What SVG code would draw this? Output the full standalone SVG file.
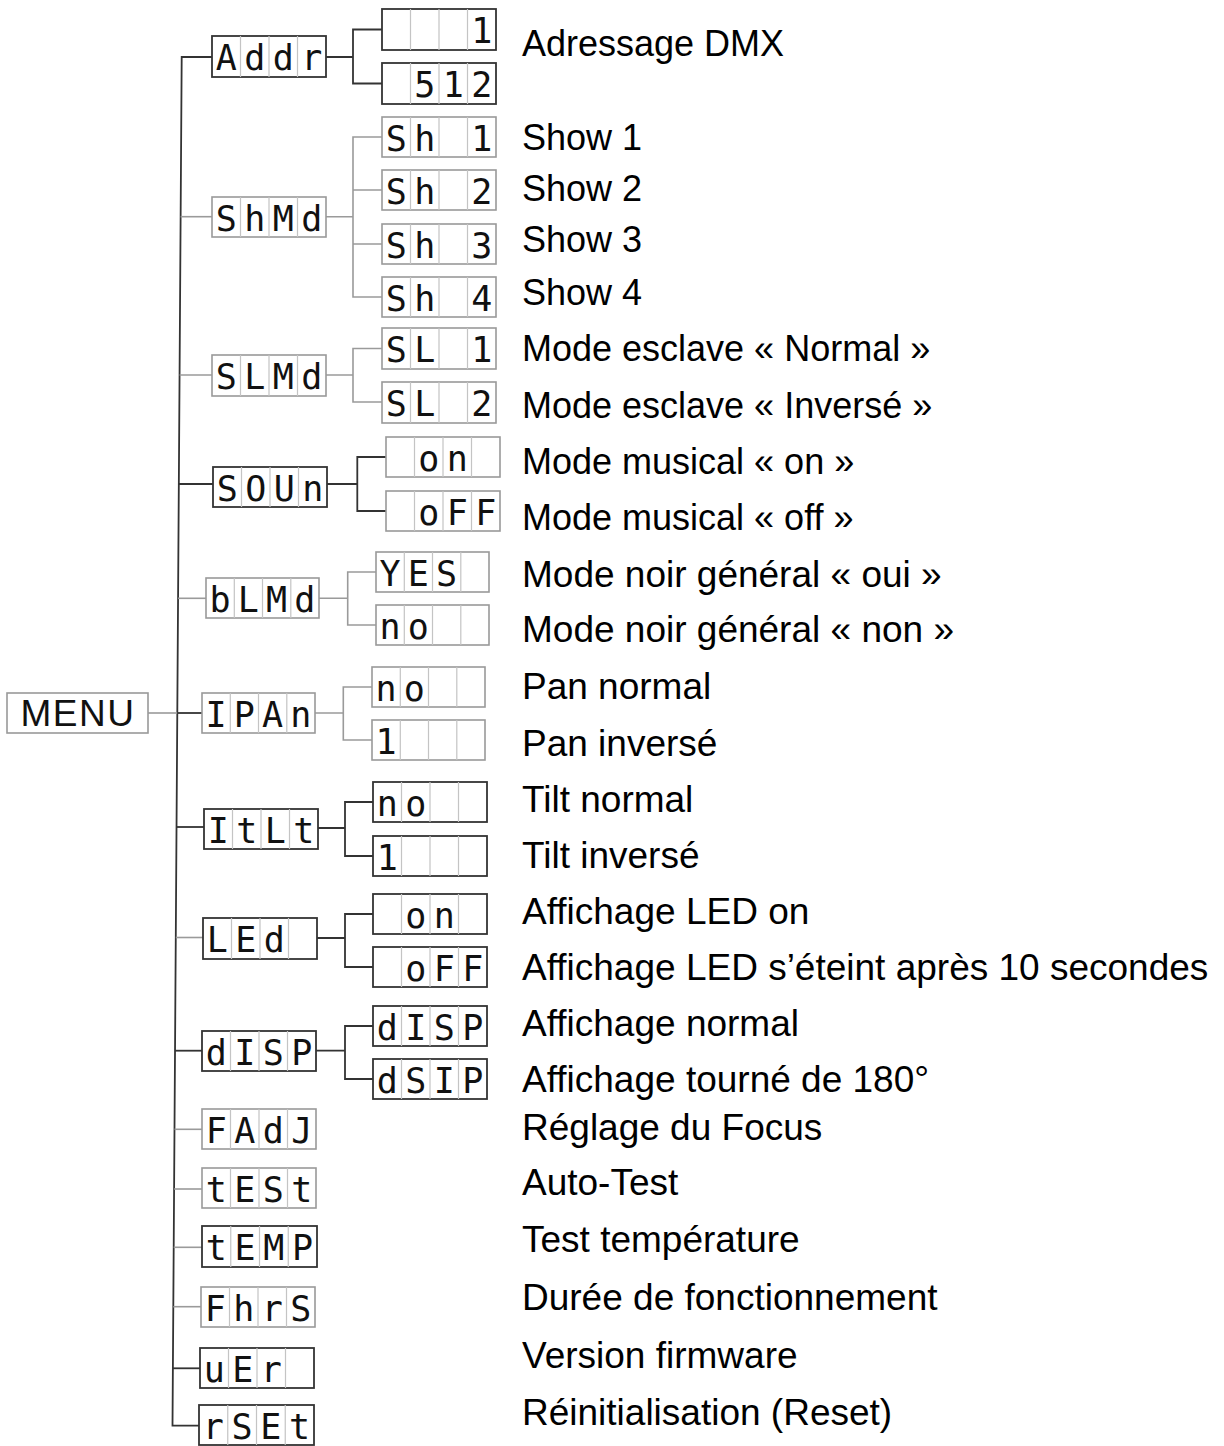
<svg xmlns="http://www.w3.org/2000/svg" width="1224" height="1446" viewBox="0 0 1224 1446">
<style>
.bd{fill:#fff;stroke:#333;stroke-width:1.8}
.bg{fill:#fff;stroke:#999;stroke-width:1.6}
.sep{fill:none;stroke:#c4c4c4;stroke-width:1.2}
.seg{font-family:"DejaVu Sans Mono","Liberation Mono",monospace;font-size:35px;fill:#111;text-anchor:middle}
.lbl{font-family:"Liberation Sans",Arial,sans-serif;font-size:36px;fill:#000}
.lb2{font-family:"Liberation Sans",Arial,sans-serif;font-size:37px;fill:#000}
.menu{font-family:"Liberation Sans",Arial,sans-serif;font-size:37px;fill:#111;text-anchor:middle;letter-spacing:1.5px}
.cd{fill:none;stroke:#333;stroke-width:1.8}
.cg{fill:none;stroke:#9a9a9a;stroke-width:1.6}
</style>
<rect width="1224" height="1446" fill="#fff"/>
<g id="connectors">
<path class="cd" d="M212,57 H181.7 L172.5,1425.7 H199"/>
<path class="cg" d="M180.6,216.7 H212"/>
<path class="cg" d="M179.6,375 H212"/>
<path class="cd" d="M178.8,484 H213"/>
<path class="cg" d="M178.1,598.3 H206"/>
<path class="cg" d="M148,713 H177.3"/>
<path class="cd" d="M177.3,713 H202"/>
<path class="cd" d="M176.5,827 H204"/>
<path class="cg" d="M175.8,937.5 H203"/>
<path class="cd" d="M175,1050.7 H202"/>
<path class="cg" d="M174.5,1129.3 H202"/>
<path class="cg" d="M174.1,1189 H202"/>
<path class="cg" d="M173.7,1247.3 H202"/>
<path class="cg" d="M173.3,1306.7 H201"/>
<path class="cd" d="M172.9,1368.3 H200"/>
<path class="cd" d="M326,57 H353 M382,29.5 H353 V83.5 H382"/>
<path class="cg" d="M326,216.7 H353 M382,137 H353 V297 H382 M353,190 H382 M353,244 H382"/>
<path class="cg" d="M326,375 H353 M382,348.5 H353 V402 H382"/>
<path class="cd" d="M327,484 H357.3 M386,457 H357.3 V511 H386"/>
<path class="cg" d="M319,598.3 H347.7 M376,572 H347.7 V625 H376"/>
<path class="cg" d="M315,713 H343.3 M372,687 H343.3 V740 H372"/>
<path class="cd" d="M318,828 H345 M373,802 H345 V856 H373"/>
<path class="cd" d="M317,938 H345 M373,914 H345 V967 H373"/>
<path class="cd" d="M316,1050.7 H345 M373,1026 H345 V1079 H373"/>
</g>
<g id="menu"><rect class="bg" x="7" y="693" width="141" height="40"/><text class="menu" x="78" y="726">MENU</text></g>
<g id="addr"><rect class="bd" x="212" y="36" width="114" height="41"/><path class="sep" d="M240.5,36V77M269,36V77M297.5,36V77"/><text class="seg" x="226.25 254.75 283.25 311.75" y="70">Addr</text></g>
<g id="addr-1"><rect class="bd" x="382" y="9" width="114" height="41"/><path class="sep" d="M410.5,9V50M439,9V50M467.5,9V50"/><text class="seg" x="481.75" y="43">1</text></g>
<g id="addr-512"><rect class="bd" x="382" y="63" width="114" height="41"/><path class="sep" d="M410.5,63V104M439,63V104M467.5,63V104"/><text class="seg" x="424.75 453.25 481.75" y="97">512</text></g>
<g id="shmd"><rect class="bg" x="212" y="197" width="114" height="40"/><path class="sep" d="M240.5,197V237M269,197V237M297.5,197V237"/><text class="seg" x="226.25 254.75 283.25 311.75" y="231">ShMd</text></g>
<g id="sh1"><rect class="bg" x="382" y="117" width="114" height="40"/><path class="sep" d="M410.5,117V157M439,117V157M467.5,117V157"/><text class="seg" x="396.25 424.75 453.25 481.75" y="151">Sh 1</text></g>
<g id="sh2"><rect class="bg" x="382" y="170" width="114" height="40"/><path class="sep" d="M410.5,170V210M439,170V210M467.5,170V210"/><text class="seg" x="396.25 424.75 453.25 481.75" y="204">Sh 2</text></g>
<g id="sh3"><rect class="bg" x="382" y="224" width="114" height="40"/><path class="sep" d="M410.5,224V264M439,224V264M467.5,224V264"/><text class="seg" x="396.25 424.75 453.25 481.75" y="258">Sh 3</text></g>
<g id="sh4"><rect class="bg" x="382" y="277" width="114" height="40"/><path class="sep" d="M410.5,277V317M439,277V317M467.5,277V317"/><text class="seg" x="396.25 424.75 453.25 481.75" y="311">Sh 4</text></g>
<g id="slmd"><rect class="bg" x="212" y="355" width="114" height="41"/><path class="sep" d="M240.5,355V396M269,355V396M297.5,355V396"/><text class="seg" x="226.25 254.75 283.25 311.75" y="389">SLMd</text></g>
<g id="sl1"><rect class="bg" x="382" y="328" width="114" height="41"/><path class="sep" d="M410.5,328V369M439,328V369M467.5,328V369"/><text class="seg" x="396.25 424.75 453.25 481.75" y="362">SL 1</text></g>
<g id="sl2"><rect class="bg" x="382" y="382" width="114" height="41"/><path class="sep" d="M410.5,382V423M439,382V423M467.5,382V423"/><text class="seg" x="396.25 424.75 453.25 481.75" y="416">SL 2</text></g>
<g id="soun"><rect class="bd" x="213" y="467" width="114" height="40"/><path class="sep" d="M241.5,467V507M270,467V507M298.5,467V507"/><text class="seg" x="227.25 255.75 284.25 312.75" y="501">SOUn</text></g>
<g id="soun-on"><rect class="bg" x="386" y="437" width="114" height="40"/><path class="sep" d="M414.5,437V477M443,437V477M471.5,437V477"/><text class="seg" x="428.75 457.25" y="471">on</text></g>
<g id="soun-off"><rect class="bg" x="386" y="491" width="114" height="40"/><path class="sep" d="M414.5,491V531M443,491V531M471.5,491V531"/><text class="seg" x="428.75 457.25 485.75" y="525">oFF</text></g>
<g id="blmd"><rect class="bg" x="206" y="578" width="113" height="40"/><path class="sep" d="M234.3,578V618M262.5,578V618M290.8,578V618"/><text class="seg" x="220.1 248.4 276.6 304.9" y="612">bLMd</text></g>
<g id="blmd-yes"><rect class="bg" x="376" y="552" width="113" height="40"/><path class="sep" d="M404.3,552V592M432.5,552V592M460.8,552V592"/><text class="seg" x="390.1 418.4 446.6" y="586">YES</text></g>
<g id="blmd-no"><rect class="bg" x="376" y="605" width="113" height="40"/><path class="sep" d="M404.3,605V645M432.5,605V645M460.8,605V645"/><text class="seg" x="390.1 418.4" y="639">no</text></g>
<g id="ipan"><rect class="bg" x="202" y="693" width="113" height="40"/><path class="sep" d="M230.3,693V733M258.5,693V733M286.8,693V733"/><text class="seg" x="216.1 244.4 272.6 300.9" y="727">IPAn</text></g>
<g id="ipan-no"><rect class="bg" x="372" y="667" width="113" height="40"/><path class="sep" d="M400.3,667V707M428.5,667V707M456.8,667V707"/><text class="seg" x="386.1 414.4" y="701">no</text></g>
<g id="ipan-1"><rect class="bg" x="372" y="720" width="113" height="40"/><path class="sep" d="M400.3,720V760M428.5,720V760M456.8,720V760"/><text class="seg" x="386.1" y="754">1</text></g>
<g id="itlt"><rect class="bd" x="204" y="809" width="114" height="40"/><path class="sep" d="M232.5,809V849M261,809V849M289.5,809V849"/><text class="seg" x="218.25 246.75 275.25 303.75" y="843">ItLt</text></g>
<g id="itlt-no"><rect class="bd" x="373" y="782" width="114" height="40"/><path class="sep" d="M401.5,782V822M430,782V822M458.5,782V822"/><text class="seg" x="387.25 415.75" y="816">no</text></g>
<g id="itlt-1"><rect class="bd" x="373" y="836" width="114" height="40"/><path class="sep" d="M401.5,836V876M430,836V876M458.5,836V876"/><text class="seg" x="387.25" y="870">1</text></g>
<g id="led"><rect class="bd" x="203" y="918" width="114" height="41"/><path class="sep" d="M231.5,918V959M260,918V959M288.5,918V959"/><text class="seg" x="217.25 245.75 274.25" y="952">LEd</text></g>
<g id="led-on"><rect class="bd" x="373" y="894" width="114" height="40"/><path class="sep" d="M401.5,894V934M430,894V934M458.5,894V934"/><text class="seg" x="415.75 444.25" y="928">on</text></g>
<g id="led-off"><rect class="bd" x="373" y="947" width="114" height="40"/><path class="sep" d="M401.5,947V987M430,947V987M458.5,947V987"/><text class="seg" x="415.75 444.25 472.75" y="981">oFF</text></g>
<g id="disp"><rect class="bd" x="202" y="1031" width="114" height="40"/><path class="sep" d="M230.5,1031V1071M259,1031V1071M287.5,1031V1071"/><text class="seg" x="216.25 244.75 273.25 301.75" y="1065">dISP</text></g>
<g id="disp-normal"><rect class="bd" x="373" y="1006" width="114" height="40"/><path class="sep" d="M401.5,1006V1046M430,1006V1046M458.5,1006V1046"/><text class="seg" x="387.25 415.75 444.25 472.75" y="1040">dISP</text></g>
<g id="disp-rot"><rect class="bd" x="373" y="1059" width="114" height="40"/><path class="sep" d="M401.5,1059V1099M430,1059V1099M458.5,1059V1099"/><text class="seg" x="387.25 415.75 444.25 472.75" y="1093">dSIP</text></g>
<g id="fadj"><rect class="bg" x="202" y="1109" width="114" height="40"/><path class="sep" d="M230.5,1109V1149M259,1109V1149M287.5,1109V1149"/><text class="seg" x="216.25 244.75 273.25 301.75" y="1143">FAdJ</text></g>
<g id="test"><rect class="bg" x="202" y="1168" width="114" height="40"/><path class="sep" d="M230.5,1168V1208M259,1168V1208M287.5,1168V1208"/><text class="seg" x="216.25 244.75 273.25 301.75" y="1202">tESt</text></g>
<g id="temp"><rect class="bd" x="202" y="1226" width="115" height="41"/><path class="sep" d="M230.75,1226V1267M259.5,1226V1267M288.25,1226V1267"/><text class="seg" x="216.4 245.1 273.9 302.6" y="1260">tEMP</text></g>
<g id="fhrs"><rect class="bg" x="201" y="1287" width="114" height="40"/><path class="sep" d="M229.5,1287V1327M258,1287V1327M286.5,1287V1327"/><text class="seg" x="215.25 243.75 272.25 300.75" y="1321">FhrS</text></g>
<g id="ver"><rect class="bd" x="200" y="1348" width="114" height="40"/><path class="sep" d="M228.5,1348V1388M257,1348V1388M285.5,1348V1388"/><text class="seg" x="214.25 242.75 271.25" y="1382">uEr</text></g>
<g id="rset"><rect class="bd" x="199" y="1405" width="115" height="40"/><path class="sep" d="M227.75,1405V1445M256.5,1405V1445M285.25,1405V1445"/><text class="seg" x="213.4 242.1 270.9 299.6" y="1439">rSEt</text></g>
<g id="labels">
<text class="lbl" x="522" y="56">Adressage DMX</text>
<text class="lbl" x="522" y="150">Show 1</text>
<text class="lbl" x="522" y="201">Show 2</text>
<text class="lbl" x="522" y="252">Show 3</text>
<text class="lbl" x="522" y="305">Show 4</text>
<text class="lbl" x="522" y="361">Mode esclave « Normal »</text>
<text class="lbl" x="522" y="418">Mode esclave « Inversé »</text>
<text class="lbl" x="522" y="474">Mode musical « on »</text>
<text class="lbl" x="522" y="530">Mode musical « off »</text>
<text class="lb2" x="522" y="587">Mode noir général « oui »</text>
<text class="lb2" x="522" y="642">Mode noir général « non »</text>
<text class="lb2" x="522" y="699">Pan normal</text>
<text class="lb2" x="522" y="756">Pan inversé</text>
<text class="lb2" x="522" y="812">Tilt normal</text>
<text class="lb2" x="522" y="868">Tilt inversé</text>
<text class="lb2" x="522" y="924">Affichage LED on</text>
<text class="lb2" x="522" y="980">Affichage LED s’éteint après 10 secondes</text>
<text class="lb2" x="522" y="1036">Affichage normal</text>
<text class="lb2" x="522" y="1092">Affichage tourné de 180°</text>
<text class="lb2" x="522" y="1140">Réglage du Focus</text>
<text class="lb2" x="522" y="1195">Auto-Test</text>
<text class="lb2" x="522" y="1252">Test température</text>
<text class="lb2" x="522" y="1310">Durée de fonctionnement</text>
<text class="lb2" x="522" y="1368">Version firmware</text>
<text class="lb2" x="522" y="1425">Réinitialisation (Reset)</text>
</g>
</svg>
